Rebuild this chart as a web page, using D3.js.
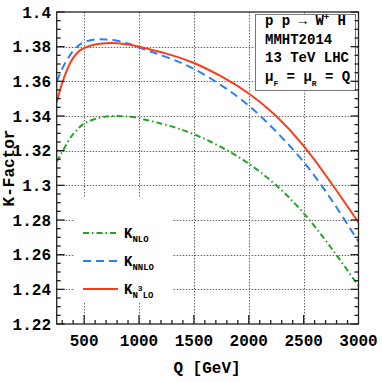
<!DOCTYPE html>
<html><head><meta charset="utf-8">
<script src="https://cdn.jsdelivr.net/npm/d3@7"></script>
<style>
html,body{margin:0;padding:0;background:#fff;}
svg text{font-family:"Liberation Mono","DejaVu Sans Mono",monospace;font-weight:bold;fill:#000;}
</style></head>
<body>
<svg id="c" width="382" height="382"></svg>
<script>
const Q = [250,300,350,400,450,500,600,700,800,900,1000,1250,1500,1750,2000,2250,2500,2750,3000];
const K_NLO  = [1.3137,1.3192,1.3250,1.3296,1.3330,1.3356,1.3383,1.3397,1.3400,1.3397,1.3387,1.3348,1.3295,1.3220,1.3125,1.3000,1.2840,1.2640,1.2420];
const K_NNLO = [1.3598,1.3672,1.3730,1.3776,1.3807,1.3826,1.3842,1.3841,1.3834,1.3818,1.3795,1.3740,1.3672,1.3577,1.3460,1.3310,1.3135,1.2920,1.2675];
const K_N3LO = [1.3480,1.3590,1.3675,1.3735,1.3772,1.3792,1.3812,1.3820,1.3820,1.3813,1.3800,1.3760,1.3706,1.3628,1.3530,1.3400,1.3228,1.3015,1.2786];
const xTicks = [500,1000,1500,2000,2500,3000];
const yTicks = [1.22,1.24,1.26,1.28,1.30,1.32,1.34,1.36,1.38,1.40];
const yTickLabels = ["1.22","1.24","1.26","1.28","1.3","1.32","1.34","1.36","1.38","1.4"];
const seriesNames = ["NLO","NNLO","N3LO"];
const colors = ["#22a322","#2b7dff","#ff3b16"];

const L=56.7, R=358.5, T=12, B=324;
const svg = d3.select("#c");
const x = d3.scaleLinear().domain([250,3000]).range([L,R]);
const y = d3.scaleLinear().domain([1.22,1.40]).range([B,T]);

// grid
const grid = svg.append("g");
[500,1000,1500,2000,2500].forEach(v=>grid.append("line")
  .attr("x1",Math.round(x(v))+0.5).attr("x2",Math.round(x(v))+0.5).attr("y1",T).attr("y2",B)
  .attr("stroke","#666").attr("stroke-width",1).attr("stroke-dasharray","1.5,1.5"));
yTicks.slice(1,-1).forEach(v=>grid.append("line")
  .attr("y1",Math.round(y(v))+0.5).attr("y2",Math.round(y(v))+0.5).attr("x1",L).attr("x2",R)
  .attr("stroke","#666").attr("stroke-width",1).attr("stroke-dasharray","1.5,1.5"));

// legend background & info box (mask grid)
svg.append("rect").attr("x",75).attr("y",197).attr("width",97).attr("height",106).attr("fill","#fff");
svg.append("rect").attr("x",255.5).attr("y",14.5).attr("width",100).attr("height",76).attr("fill","#fff").attr("stroke","#777").attr("stroke-width",1);

// curves
const data = [K_NLO,K_NNLO,K_N3LO];
const dashes = ["6,3,1.5,3","8,5",null];
const line = d3.line().x((d,i)=>x(Q[i])).y(d=>y(d)).curve(d3.curveNatural);
svg.append("clipPath").attr("id","clp").append("rect").attr("x",L).attr("y",T).attr("width",R-L).attr("height",B-T);
data.forEach((s,k)=>{
  svg.append("path").datum(s).attr("d",line).attr("fill","none").attr("stroke",colors[k])
    .attr("stroke-width",2).attr("stroke-dasharray",dashes[k]).attr("clip-path","url(#clp)");
});

// frame
const ax = svg.append("g").attr("stroke","#222").attr("stroke-width",1.3);
ax.append("rect").attr("x",L).attr("y",T).attr("width",R-L).attr("height",B-T).attr("fill","none");
d3.range(300,3000,100).forEach(v=>{
  const len = v%500===0?9:4;
  ax.append("line").attr("x1",x(v)).attr("x2",x(v)).attr("y1",B).attr("y2",B-len);
});
d3.range(0,37).forEach(i=>{
  const v = 1.22+i*0.005;
  const len = i%4===0?8:4;
  ax.append("line").attr("x1",L).attr("x2",L+len).attr("y1",y(v)).attr("y2",y(v));
  ax.append("line").attr("x1",R).attr("x2",R-len).attr("y1",y(v)).attr("y2",y(v));
});

// tick labels
svg.append("g").selectAll("text").data(xTicks).join("text")
  .attr("x",d=>x(d)).attr("y",346).attr("text-anchor","middle").attr("font-size",16).text(d=>d);
svg.append("g").selectAll("text").data(yTicks).join("text")
  .attr("x",51).attr("y",d=>y(d)+5.5).attr("text-anchor","end").attr("font-size",16).text((d,i)=>yTickLabels[i]);

// axis titles
svg.append("text").attr("x",207).attr("y",373).attr("text-anchor","middle").attr("font-size",16).text("Q [GeV]");
svg.append("text").attr("transform","translate(14,168) rotate(-90)").attr("text-anchor","middle").attr("font-size",16).text("K-Factor");

// legend
const legY=[233,261,289];
seriesNames.forEach((n,k)=>{
  svg.append("line").attr("x1",83).attr("x2",118).attr("y1",legY[k]).attr("y2",legY[k])
    .attr("stroke",colors[k]).attr("stroke-width",2).attr("stroke-dasharray",dashes[k]);
  const t = svg.append("text").attr("x",124).attr("y",legY[k]+5).attr("font-size",14);
  t.append("tspan").text("K");
  if(n==="N3LO"){
    t.append("tspan").attr("font-size",9).attr("dy",4).text("N");
    t.append("tspan").attr("font-size",8).attr("dy",-7).text("3");
    t.append("tspan").attr("font-size",9).attr("dy",7).text("LO");
  } else {
    t.append("tspan").attr("font-size",9).attr("dy",4).text(n);
  }
});

// info box
const info = svg.append("g").attr("font-size",14);
const t1 = info.append("text").attr("x",265).attr("y",25).attr("xml:space","preserve");
t1.append("tspan").text("p p → W");
t1.append("tspan").attr("font-size",9).attr("dy",-5).text("+");
t1.append("tspan").attr("dy",5).text(" H");
info.append("text").attr("x",265).attr("y",44).text("MMHT2014");
info.append("text").attr("x",265).attr("y",62).text("13 TeV LHC");
const t4 = info.append("text").attr("x",265).attr("y",81).attr("xml:space","preserve");
t4.append("tspan").text("μ");
t4.append("tspan").attr("font-size",8).attr("dy",5).text("F");
t4.append("tspan").attr("dy",-5).text(" = μ");
t4.append("tspan").attr("font-size",8).attr("dy",5).text("R");
t4.append("tspan").attr("dy",-5).text(" = Q");
</script>
</body></html>
